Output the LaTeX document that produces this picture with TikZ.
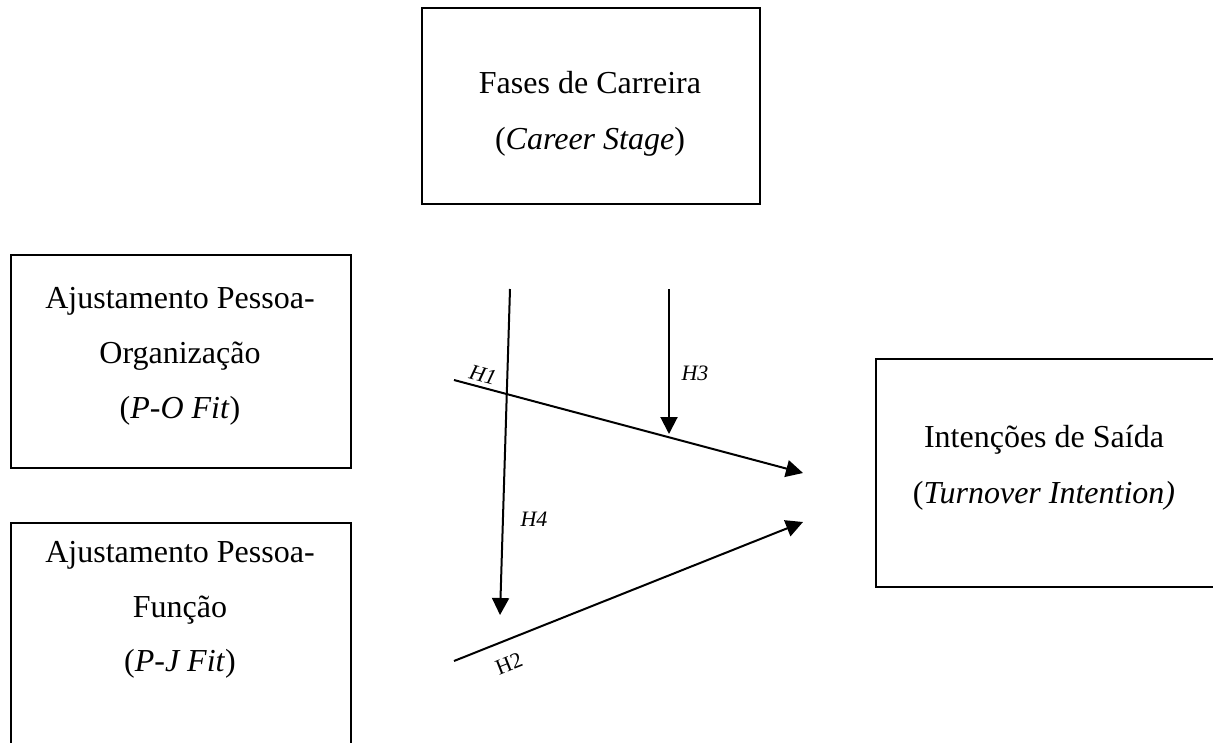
\documentclass[tikz,border=0pt]{standalone}
\usepackage{fontspec}
\setmainfont{Liberation Serif}
\usetikzlibrary{arrows.meta}
\begin{document}
\begin{tikzpicture}[x=1pt,y=-1pt,
  boxnode/.style={draw,line width=2pt,inner sep=0pt,anchor=north west},
  txt/.style={font=\fontsize{32}{56}\selectfont,inner sep=0pt,anchor=base},
  link/.style={line width=2pt,-{Triangle[length=17pt,width=17pt]}},
  hlab/.style={font=\fontsize{22}{26}\selectfont,inner sep=0pt}]
\useasboundingbox (0,0) rectangle (1213,742);
\clip (0,0) rectangle (1213,742);
% boxes
\node[boxnode,minimum width=338pt,minimum height=196pt] (career) at (421,7) {};
\node[boxnode,minimum width=340pt,minimum height=213pt] (po) at (10,254) {};
\node[boxnode,minimum width=340pt,minimum height=260pt] (pj) at (10,522) {};
\node[boxnode,minimum width=360pt,minimum height=228pt] (ti) at (875,358) {};
% texts
\node[txt] (c1) at (590,93) {Fases de Carreira};
\node[txt] (c2) at (590,149) {(\textit{Career Stage})};
\node[txt] (p1) at (180,308) {Ajustamento Pessoa-};
\node[txt] (p2) at (180,363) {Organização};
\node[txt] (p3) at (180,418) {(\textit{P-O Fit})};
\node[txt] (j1) at (180,562) {Ajustamento Pessoa-};
\node[txt] (j2) at (180,617) {Função};
\node[txt] (j3) at (180,671) {(\textit{P-J Fit})};
\node[txt] (t1) at (1044,447) {Intenções de Saída};
\node[txt] (t2) at (1044,503) {(\textit{Turnover Intention)}};
% connector end points
\coordinate (h1s) at (454,380);
\coordinate (h1e) at (803,473);
\coordinate (h2s) at (454,661);
\coordinate (h2e) at (803,522);
\coordinate (h3s) at (669,289);
\coordinate (h3e) at (669,434);
\coordinate (h4s) at (510,289);
\coordinate (h4e) at (500,615);
\draw[link] (h1s) -- (h1e);
\draw[link] (h2s) -- (h2e);
\draw[link] (h3s) -- (h3e);
\draw[link] (h4s) -- (h4e);
% labels
\node[hlab,rotate=-15] (l1) at (483,375) {\textit{H1}};
\node[hlab,rotate=21.7] (l2) at (509,664) {H2};
\node[hlab] (l3) at (695,373) {\textit{H3}};
\node[hlab] (l4) at (534,519) {\textit{H4}};
\end{tikzpicture}
\end{document}
